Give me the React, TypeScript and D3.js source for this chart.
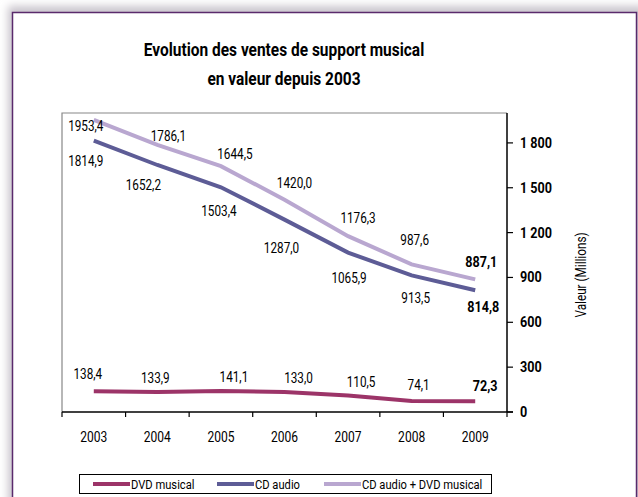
import React, { useEffect, useRef } from 'react';
import * as d3 from 'd3';

// values (millions)
const years = ['2003', '2004', '2005', '2006', '2007', '2008', '2009'];
const dvdMusical = [138.4, 133.9, 141.1, 133.0, 110.5, 74.1, 72.3];
const cdAudio = [1814.9, 1652.2, 1503.4, 1287.0, 1065.9, 913.5, 814.8];
const cdPlusDvd = [1953.4, 1786.1, 1644.5, 1420.0, 1176.3, 987.6, 887.1];
const yTicks = [0, 300, 600, 900, 1200, 1500, 1800];

const seriesNames = ['DVD musical', 'CD audio', 'CD audio + DVD musical'];
const seriesColors = ['#9c3468', '#5d5c96', '#b9a7d0'];

const W = 638;
const H = 497;
const FONT = 'Roboto, "Liberation Sans", sans-serif';

const fmt = (v: number) => v.toFixed(1).replace('.', ',');
const fmtTick = (v: number) => (v >= 1000 ? `${Math.floor(v / 1000)} ${String(v % 1000).padStart(3, '0')}` : String(v));

type Sel = d3.Selection<any, any, any, any>;

// the source uses a condensed face; squeeze a regular one horizontally
const label = (
  parent: Sel,
  x: number,
  y: number,
  txt: string,
  o: { size?: number; bold?: boolean; anchor?: string; sx?: number; rotate?: number } = {}
) =>
  parent
    .append('text')
    .attr('transform', `translate(${x},${y})${o.rotate ? ` rotate(${o.rotate})` : ''} scale(${o.sx ?? 0.84},1)`)
    .attr('text-anchor', o.anchor ?? 'middle')
    .attr('font-family', FONT)
    .attr('font-size', o.size ?? 14)
    .attr('font-weight', o.bold ? 'bold' : 'normal')
    .attr('fill', '#000')
    .text(txt);

// hand-placed data label nudges (dx, dy from the point to the label baseline), as in the source
const nudges = [
  [[-6, -12], [-2, -9], [13, -9], [14, -9], [13, -8], [7, -11], [10, -10]],
  [[-8, 25], [-14, 25], [-2, 29], [-3, 33], [1, 30], [4, 28], [8, 22]],
  [[-8, 11], [11, -4], [14, -7], [10, -12], [10, -13], [3, -19], [6, -12]],
];

const App = () => {
  const ref = useRef<SVGSVGElement>(null);

  useEffect(() => {
    const svg = d3.select(ref.current);
    svg.selectAll('*').remove();

    const left = 62;
    const right = 507;
    const top = 113;
    const bottom = 412;

    const x = d3.scaleBand().domain(years).range([left, right]);
    const y = d3.scaleLinear().domain([0, 2000]).range([bottom, top]);
    const cx = (d: string) => (x(d) as number) + x.bandwidth() / 2;

    // drop shadow + frame
    const defs = svg.append('defs');
    const f = defs.append('filter').attr('id', 'sh').attr('x', '-10%').attr('y', '-10%').attr('width', '120%').attr('height', '120%');
    f.append('feGaussianBlur').attr('stdDeviation', 4);

    svg.append('rect').attr('width', W).attr('height', H).attr('fill', '#fff');
    svg.append('rect')
      .attr('x', 8).attr('y', 6).attr('width', W).attr('height', H + 20)
      .attr('fill', '#c9c4cc').attr('filter', 'url(#sh)');
    svg.append('rect')
      .attr('x', 12.5).attr('y', 12.5).attr('width', 624).attr('height', H + 20)
      .attr('fill', '#fff').attr('stroke', '#5a2a6c').attr('stroke-width', 1.5);

    // title
    label(svg, 284, 56, 'Evolution des ventes de support musical', { size: 18, bold: true, sx: 0.86 });
    label(svg, 284, 85, 'en valeur depuis 2003', { size: 18, bold: true, sx: 0.86 });

    // plot box (left/top gray)
    svg.append('path')
      .attr('d', `M${left},${bottom} V${top} H${right}`)
      .attr('fill', 'none').attr('stroke', '#888').attr('stroke-width', 1.2);

    // x axis
    const xAxis = svg.append('g').attr('transform', `translate(0,${bottom})`);
    xAxis.append('line').attr('x1', left).attr('x2', right + 6).attr('stroke', '#000').attr('stroke-width', 1.3);
    const bounds = years.map((d) => x(d) as number).concat([right]);
    xAxis.selectAll('line.tk').data(bounds).enter().append('line')
      .attr('class', 'tk').attr('x1', (d) => d).attr('x2', (d) => d).attr('y1', 0).attr('y2', 5)
      .attr('stroke', '#000').attr('stroke-width', 1.2);
    years.forEach((yr) => label(xAxis, cx(yr), 30, yr, { size: 14, sx: 0.86 }));

    // y axis (right)
    const yAxis = svg.append('g').attr('transform', `translate(${right},0)`);
    yAxis.append('line').attr('y1', top).attr('y2', bottom).attr('stroke', '#000').attr('stroke-width', 1.5);
    yAxis.selectAll('line.tk').data(yTicks).enter().append('line')
      .attr('class', 'tk').attr('x1', 0).attr('x2', 6).attr('y1', (d) => y(d)).attr('y2', (d) => y(d))
      .attr('stroke', '#000').attr('stroke-width', 1.2);
    yTicks.forEach((t) => label(yAxis, 13, y(t) + 5, fmtTick(t), { size: 14, bold: true, anchor: 'start', sx: 0.9 }));

    label(svg, 586, 275, 'Valeur (Millions)', { size: 14, rotate: -90, sx: 0.84 });

    // lines
    const line = d3.line<number>().x((_, i) => cx(years[i])).y((d) => y(d));
    const all = [dvdMusical, cdAudio, cdPlusDvd];
    [2, 1, 0].forEach((k) => {
      svg.append('path')
        .datum(all[k])
        .attr('d', line)
        .attr('fill', 'none')
        .attr('stroke', seriesColors[k])
        .attr('stroke-width', 4);
    });

    // data labels
    all.forEach((vals, k) => {
      const g = svg.append('g');
      vals.forEach((v, i) => {
        const last = i === vals.length - 1;
        const [dx, dy] = nudges[k][i];
        label(g, cx(years[i]) + dx, y(v) + dy, fmt(v), {
          size: last ? 15 : 14,
          bold: last,
          sx: 0.84,
        });
      });
    });

    // legend
    const lg = svg.append('g');
    lg.append('rect').attr('x', 79.5).attr('y', 474.5).attr('width', 412).attr('height', 19)
      .attr('fill', '#fff').attr('stroke', '#000').attr('stroke-width', 1);
    const lx = [93, 217, 324];
    seriesNames.forEach((name, k) => {
      lg.append('line').attr('x1', lx[k]).attr('x2', lx[k] + 37).attr('y1', 484).attr('y2', 484)
        .attr('stroke', seriesColors[k]).attr('stroke-width', 4);
      label(lg, lx[k] + 38, 489, name, { size: 13, anchor: 'start', sx: 0.86 });
    });
  }, []);

  return <svg ref={ref} width={W} height={H} style={{ position: 'absolute', left: 0, top: 0 }} />;
};

export default App;
